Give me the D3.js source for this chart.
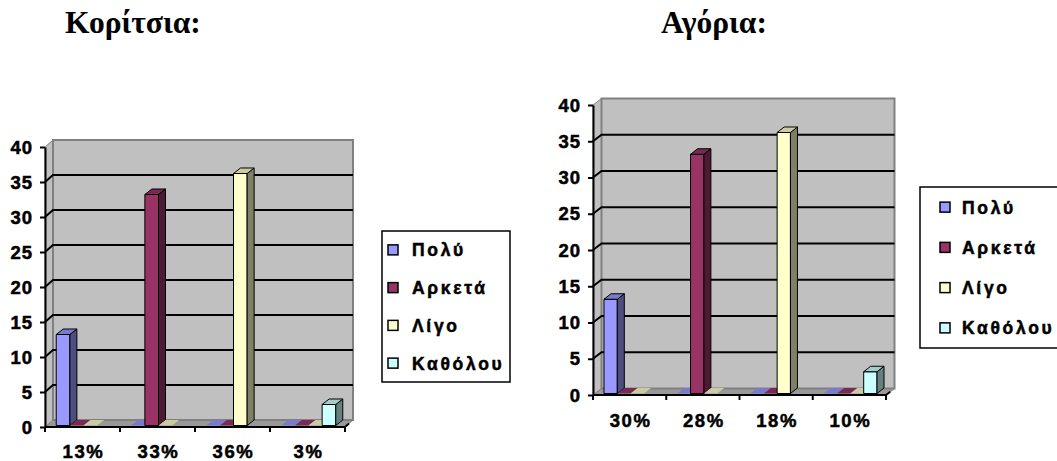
<!DOCTYPE html>
<html>
<head>
<meta charset="utf-8">
<script src="https://cdn.jsdelivr.net/npm/d3@7"></script>
<style>
  html, body { margin: 0; padding: 0; background: #fff; }
  svg { display: block; }
  text.tick-label { font-family: Arial, "Liberation Sans", sans-serif; font-weight: 700; font-size: 18.5px; letter-spacing: 1px; fill: #000; stroke: #000; stroke-width: 0.5px; }
  text.cat-label { letter-spacing: 1.6px; }
  text.legend-label { font-family: Arial, "Liberation Sans", sans-serif; font-weight: 700; font-size: 17.5px; letter-spacing: 2.7px; fill: #000; stroke: #000; stroke-width: 0.5px; }
  text.title { font-family: "Liberation Serif", "Times New Roman", serif; font-weight: 700; font-size: 31.5px; fill: #000; }
</style>
</head>
<body>
<svg id="chart" width="1057" height="461"></svg>
<script>
// Series shown in both charts
const seriesNames = ["Πολύ", "Αρκετά", "Λίγο", "Καθόλου"];
const seriesFront = ["#9999FF", "#993366", "#FFFFCC", "#CCFFFF"];
const seriesSide  = ["#4D4D80", "#4D1A33", "#808066", "#668080"];
const seriesTop   = ["#7A7ACC", "#7A2952", "#CCCCA3", "#A3CCCC"];

// Value axis ticks
const valueTicks = [0, 5, 10, 15, 20, 25, 30, 35, 40];

// Girls
const girlsTitle = "Κορίτσια:";
const girlsCategories = ["13%", "33%", "36%", "3%"];
const girlsPolu    = [13, 0, 0, 0];
const girlsArketa  = [0, 33, 0, 0];
const girlsLigo    = [0, 0, 36, 0];
const girlsKatholou = [null, null, null, 3];

// Boys
const boysTitle = "Αγόρια:";
const boysCategories = ["30%", "28%", "18%", "10%"];
const boysPolu    = [13, 0, 0, 0];
const boysArketa  = [0, 33, 0, 0];
const boysLigo    = [0, 0, 36, 0];
const boysKatholou = [null, null, null, 3];

const svg = d3.select("#chart");

function drawChart(cfg) {
  const g = svg.append("g");
  const [ddx, ddy] = cfg.depth;          // wall depth offset (right, up)
  const [bdx, bdy] = cfg.barDepth;       // bar depth offset
  const x = d3.scaleBand().domain(cfg.categories)
    .range([cfg.x0, cfg.x0 + cfg.plotW]).paddingInner(0).paddingOuter(0);
  const y = d3.scaleLinear().domain([0, 40]).range([cfg.y0, cfg.y0 - cfg.plotH]);
  const inner = d3.scaleBand().domain(seriesNames)
    .range([0, x.bandwidth()]).paddingInner(0).paddingOuter(0.75);

  const xL = cfg.x0, xR = cfg.x0 + cfg.plotW;
  const yB = y(0), yT = y(40);

  // floor
  g.append("path")
    .attr("d", `M${xL},${yB} L${xR},${yB} L${xR + ddx},${yB - ddy} L${xL + ddx},${yB - ddy} Z`)
    .attr("fill", "#999999").attr("stroke", "#808080").attr("stroke-width", 1);
  // side wall
  g.append("path")
    .attr("d", `M${xL},${yB} L${xL},${yT} L${xL + ddx},${yT - ddy} L${xL + ddx},${yB - ddy} Z`)
    .attr("fill", "#C0C0C0").attr("stroke", "#808080").attr("stroke-width", 1);
  // back wall
  g.append("rect")
    .attr("x", xL + ddx).attr("y", yT - ddy)
    .attr("width", cfg.plotW).attr("height", yB - yT)
    .attr("fill", "#C0C0C0").attr("stroke", "#808080").attr("stroke-width", 2);

  // gridlines: across the side wall and the back wall
  const grid = g.append("g");
  valueTicks.filter(v => v > 0 && v < 40).forEach(v => {
    grid.append("path")
      .attr("d", `M${xL},${y(v)} L${xL + ddx},${y(v) - ddy} L${xR + ddx},${y(v) - ddy}`)
      .attr("fill", "none").attr("stroke", "#000").attr("stroke-width", 2);
  });

  // bars, left to right
  const seriesValues = cfg.values;
  const bars = g.append("g");
  const bw = inner.bandwidth();
  cfg.categories.forEach((c, j) => {
    seriesNames.forEach((s, i) => {
      const v = seriesValues[i][j];
      if (v == null) return;
      const fx = x(c) + inner(s) + cfg.barInset[0];
      const yb = y(0) - cfg.barInset[1];
      const yv = yb - (y(0) - y(v));
      const bg = bars.append("g")
        .attr("stroke", "#000").attr("stroke-width", 1).attr("stroke-linejoin", "round");
      if (v > 0) {
        bg.append("path")
          .attr("d", `M${fx},${yb} L${fx + bw},${yb} L${fx + bw},${yv} L${fx},${yv} Z`)
          .attr("fill", seriesFront[i]);
        bg.append("path")
          .attr("d", `M${fx + bw},${yb} L${fx + bw + bdx},${yb - bdy} L${fx + bw + bdx},${yv - bdy} L${fx + bw},${yv} Z`)
          .attr("fill", seriesSide[i]);
      }
      bg.append("path")
        .attr("d", `M${fx},${yv} L${fx + bw},${yv} L${fx + bw + bdx},${yv - bdy} L${fx + bdx},${yv - bdy} Z`)
        .attr("fill", seriesTop[i])
        .attr("stroke", v > 0 ? "#000" : "none");
    });
  });

  // value axis on the front plane
  const yAxis = d3.axisLeft(y).tickValues(valueTicks).tickSize(5).tickSizeOuter(0).tickPadding(7);
  const ya = g.append("g").attr("transform", `translate(${xL},0)`).call(yAxis)
    .attr("font-size", null).attr("font-family", null);
  ya.select(".domain").attr("stroke", "#000").attr("stroke-width", 2);
  ya.selectAll(".tick line").attr("stroke", "#000").attr("stroke-width", 2);
  ya.selectAll(".tick text").attr("class", "tick-label").attr("dy", "0.33em");

  // category axis: boundary ticks and centred labels
  const xa = g.append("g");
  xa.append("path")
    .attr("d", `M${xL},${yB} L${xR},${yB} L${xR + ddx * 0.5},${yB - ddy * 0.5}`)
    .attr("fill", "none").attr("stroke", "#000").attr("stroke-width", 2);
  const bounds = cfg.categories.map(c => x(c)).concat([xR]);
  xa.selectAll("line.bound").data(bounds).enter().append("line")
    .attr("x1", d => d).attr("x2", d => d)
    .attr("y1", yB).attr("y2", yB + 5)
    .attr("stroke", "#000").attr("stroke-width", 2);
  const xAxis = d3.axisBottom(x).tickSize(0).tickPadding(0);
  const xg = g.append("g").attr("transform", `translate(1,${yB + cfg.catLabelDy})`).call(xAxis)
    .attr("font-size", null).attr("font-family", null);
  xg.select(".domain").remove();
  xg.selectAll(".tick text").attr("class", "tick-label cat-label").attr("dy", 0).attr("y", 0);

  // legend
  const lg = g.append("g");
  lg.append("rect")
    .attr("x", cfg.legend.x).attr("y", cfg.legend.y)
    .attr("width", cfg.legend.w).attr("height", cfg.legend.h)
    .attr("fill", "#fff").attr("stroke", "#000").attr("stroke-width", 1.5);
  const rowH = cfg.legend.h / seriesNames.length;
  seriesNames.forEach((s, i) => {
    const cy = cfg.legend.y + rowH * (i + 0.5);
    lg.append("rect")
      .attr("x", cfg.legend.swatchX).attr("y", cy - 5)
      .attr("width", 10).attr("height", 10)
      .attr("fill", seriesFront[i]).attr("stroke", "#000").attr("stroke-width", 1.5);
    lg.append("text").attr("class", "legend-label")
      .attr("x", cfg.legend.textX).attr("y", cy + 6.5)
      .text(s);
  });

  // title
  g.append("text").attr("class", "title")
    .attr("x", cfg.titleX).attr("y", cfg.titleY).text(cfg.title);
}

drawChart({
  title: girlsTitle, titleX: 65, titleY: 33,
  categories: girlsCategories,
  values: [girlsPolu, girlsArketa, girlsLigo, girlsKatholou],
  x0: 45, plotW: 300, y0: 427, plotH: 280,
  depth: [8, 7], barDepth: [7, 5.5], barInset: [1, 1.5],
  catLabelDy: 31,
  legend: { x: 382, y: 231, w: 128, h: 151, swatchX: 388, textX: 412 }
});

drawChart({
  title: boysTitle, titleX: 661, titleY: 33,
  categories: boysCategories,
  values: [boysPolu, boysArketa, boysLigo, boysKatholou],
  x0: 593, plotW: 293, y0: 395, plotH: 290,
  depth: [8.5, 6.5], barDepth: [7, 5.5], barInset: [1, 1.5],
  catLabelDy: 31.5,
  legend: { x: 920, y: 187, w: 150, h: 161, swatchX: 940, textX: 962 }
});
</script>
</body>
</html>
